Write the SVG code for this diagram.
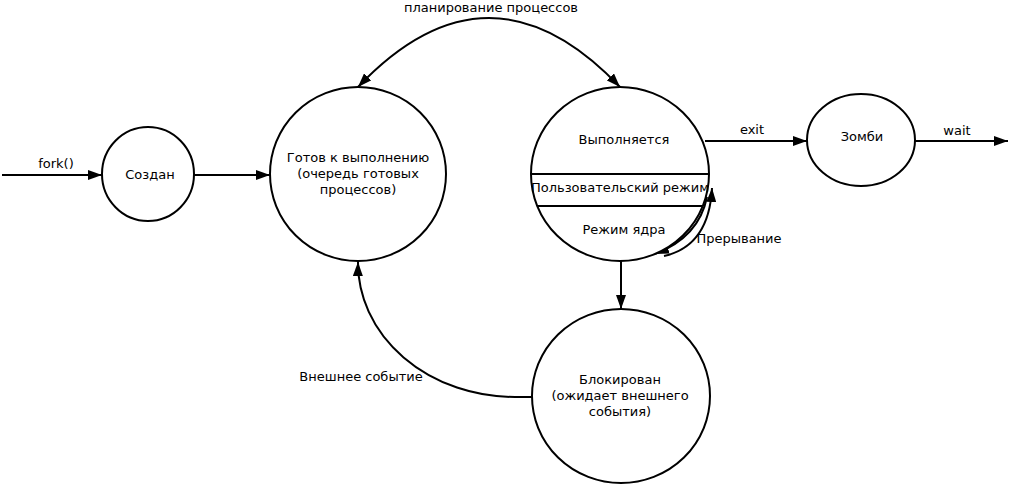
<svg xmlns="http://www.w3.org/2000/svg" width="1009" height="485" viewBox="0 0 1009 485">
<style>
.n{fill:#fff;stroke:#000;stroke-width:2}
.c{fill:none;stroke:#000;stroke-width:2}
.t{font-family:"DejaVu Sans",sans-serif;font-size:13px;fill:#000;text-anchor:middle}
</style>
<defs>
<marker id="a" viewBox="0 0 14 10" refX="14" refY="5" markerWidth="14" markerHeight="10" markerUnits="userSpaceOnUse" orient="auto-start-reverse">
<path d="M0,0 L14,5 L0,10 Z" fill="#000"/>
</marker>
</defs>
<rect width="1009" height="485" fill="#fff"/>
<g id="connectors">
<line class="c" x1="2" y1="175" x2="102" y2="175" marker-end="url(#a)"/>
<line class="c" x1="194" y1="175" x2="270" y2="175" marker-end="url(#a)"/>
<line class="c" x1="705" y1="141" x2="807" y2="141" marker-end="url(#a)"/>
<line class="c" x1="915" y1="141" x2="1008" y2="141" marker-end="url(#a)"/>
<line class="c" x1="621" y1="261" x2="621" y2="309" marker-end="url(#a)"/>
<path class="c" d="M358,87 Q489,-51 620,87" marker-start="url(#a)" marker-end="url(#a)"/>
<path class="c" d="M532,397 L515,397 A157 134 0 0 1 358 262" marker-end="url(#a)"/>
<path class="c" d="M664,256 Q709,246 712,188" marker-end="url(#a)"/>
<path class="c" d="M707,197 Q699,237 655,254" marker-end="url(#a)"/>
<text class="t" x="739" y="243">Прерывание</text>
<text class="t" x="56" y="168">fork()</text>
<text class="t" x="752" y="134">exit</text>
<text class="t" x="957" y="135">wait</text>
<text class="t" x="491" y="12">планирование процессов</text>
<text class="t" x="361" y="381">Внешнее событие</text>
</g>
<g id="created">
<ellipse class="n" cx="148" cy="174" rx="46" ry="47"/>
<text class="t" x="150" y="179">Создан</text>
</g>
<g id="ready">
<ellipse class="n" cx="358" cy="174" rx="88" ry="87"/>
<text class="t" x="358" y="162">Готов к выполнению</text>
<text class="t" x="358" y="178">(очередь готовых</text>
<text class="t" x="358" y="194">процессов)</text>
</g>
<g id="running">
<ellipse class="n" cx="620" cy="174" rx="89" ry="87"/>
<line class="c" x1="531" y1="174" x2="709" y2="174"/>
<line class="c" x1="538" y1="206" x2="702" y2="206"/>
<text class="t" x="624" y="144">Выполняется</text>
<text class="t" x="620" y="192">Пользовательский режим</text>
<text class="t" x="624" y="234">Режим ядра</text>
</g>
<g id="zombie">
<ellipse class="n" cx="861" cy="140" rx="54" ry="46"/>
<text class="t" x="862" y="141">Зомби</text>
</g>
<g id="blocked">
<ellipse class="n" cx="621" cy="396" rx="89" ry="87"/>
<text class="t" x="620" y="384">Блокирован</text>
<text class="t" x="620" y="400">(ожидает внешнего</text>
<text class="t" x="620" y="416">события)</text>
</g>
</svg>
